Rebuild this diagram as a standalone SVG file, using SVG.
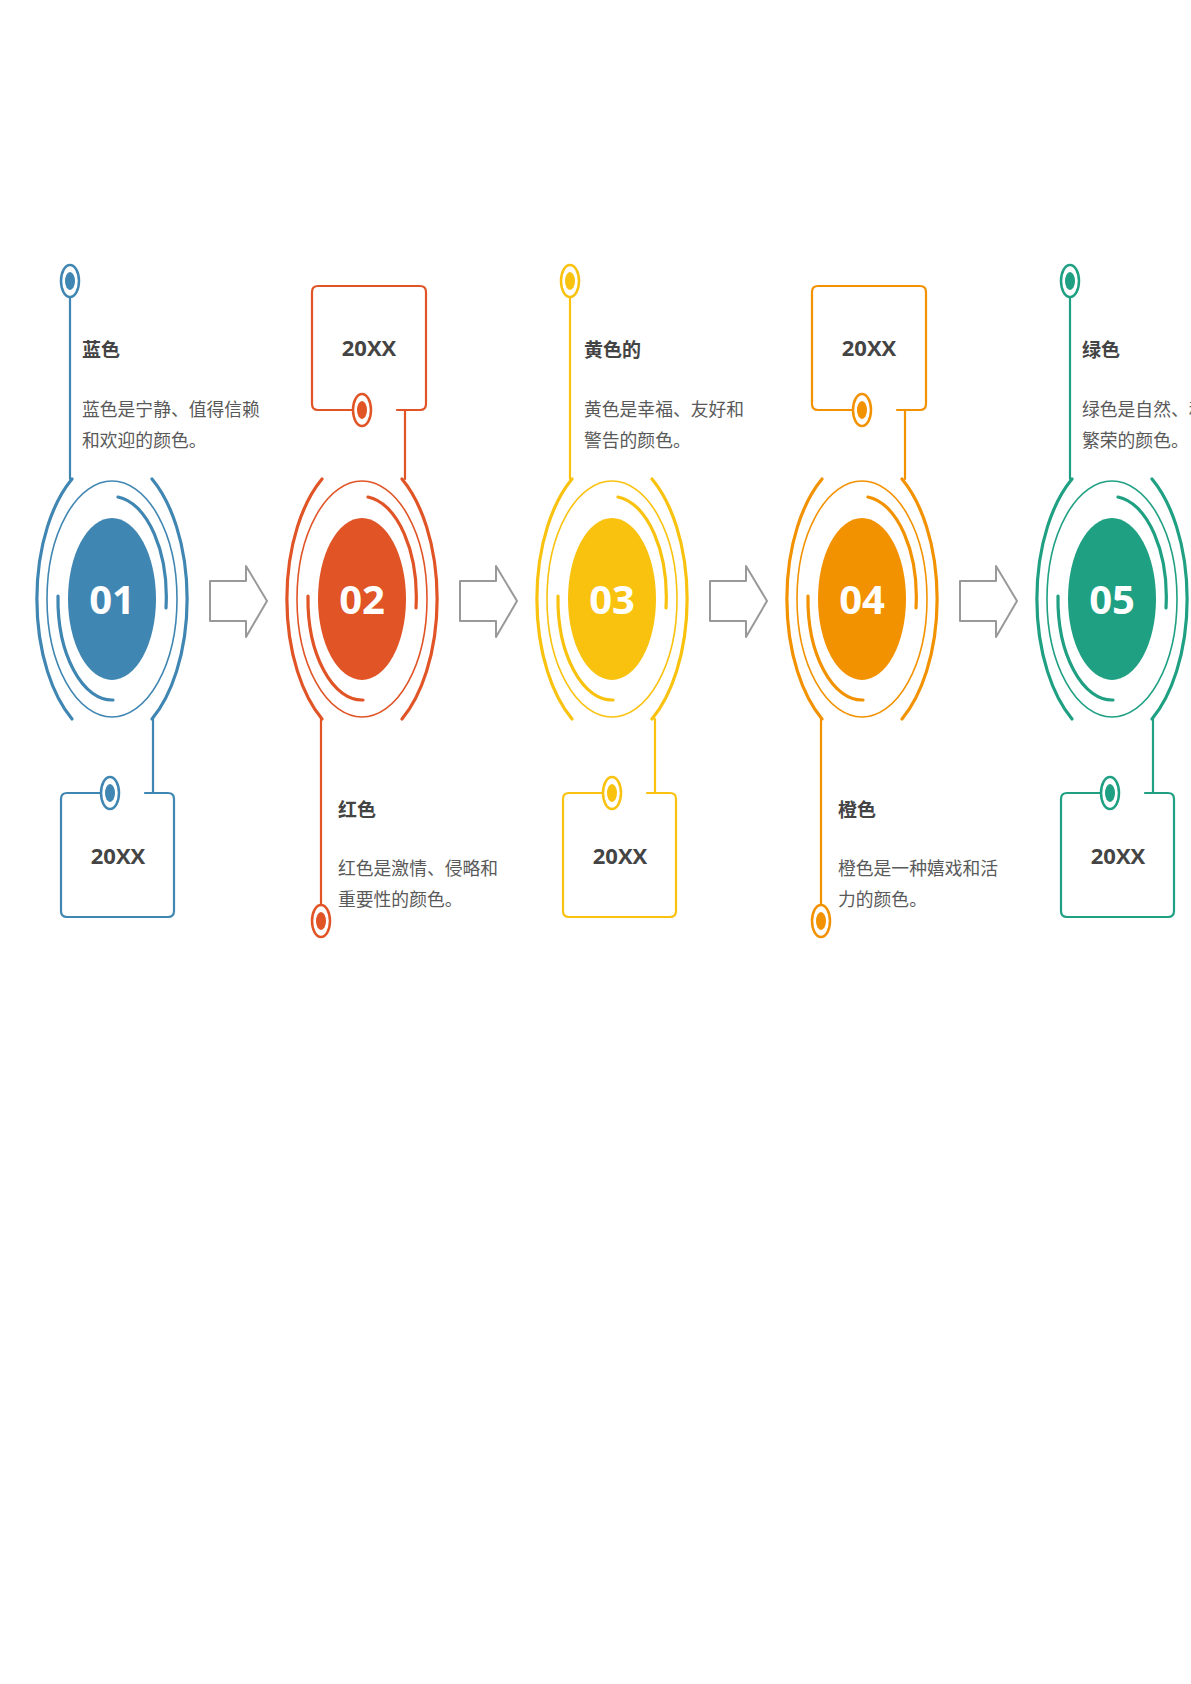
<svg xmlns="http://www.w3.org/2000/svg" width="1191" height="1684" viewBox="0 0 1191 1684">
<style>
.s{fill:none;stroke:currentColor;stroke-linecap:round}
.thin{stroke-width:1.6}
.w2{stroke-width:2.2}
.w3{stroke-width:3.2}
.f{fill:currentColor}
.num{font-family:"Open Sans","Liberation Sans",sans-serif;font-weight:bold;font-size:40px;fill:#fff;text-anchor:middle}
.yr{font-family:"Open Sans","Liberation Sans",sans-serif;font-weight:bold;font-size:22px;fill:#444;text-anchor:middle}
.tt{font-family:"Noto Sans CJK SC",sans-serif;font-weight:bold;font-size:19px;fill:#444}
.bd{font-family:"Noto Sans CJK SC",sans-serif;font-size:17.8px;fill:#595959}
.ar{fill:#fff;stroke:#999;stroke-width:2;stroke-linejoin:round}
</style>
<defs>
<g id="ring">
<path class="s w3" d="M72 479 A77 143 0 0 0 72 719"/>
<path class="s w3" d="M152 479 A77 143 0 0 1 152 719"/>
<ellipse class="s thin" cx="112" cy="599" rx="65" ry="118"/>
<path class="s w3" d="M118 497 A54 101 0 0 1 166 608"/>
<path class="s w3" d="M58 596 A54 101 0 0 0 113 700"/>
<ellipse class="f" cx="112" cy="599" rx="44" ry="81"/>
</g>
<g id="pin">
<ellipse cx="0" cy="0" rx="9" ry="16" fill="#fff" stroke="currentColor" stroke-width="2.5"/>
<ellipse class="f" cx="0" cy="0" rx="5" ry="9"/>
</g>
</defs>
<g id="connectors">
<path class="ar" d="M210 581 H246 V566 L267 601 L246 637 V621 H210 Z"/>
<path class="ar" d="M460 581 H496 V566 L517 601 L496 637 V621 H460 Z"/>
<path class="ar" d="M710 581 H746 V566 L767 601 L746 637 V621 H710 Z"/>
<path class="ar" d="M960 581 H996 V566 L1017 601 L996 637 V621 H960 Z"/>
</g>
<g id="node1" color="#4086B2">
<line class="s w2" x1="70" y1="281" x2="70" y2="479"/>
<use href="#pin" x="70" y="281"/>
<text class="tt" x="82" y="357">蓝色</text>
<text class="bd" x="82" y="416">蓝色是宁静、值得信赖</text>
<text class="bd" x="82" y="447">和欢迎的颜色。</text>
<use href="#ring"/>
<text class="num" x="112" y="614">01</text>
<line class="s w2" x1="153" y1="719" x2="153" y2="793"/>
<path class="s w2" d="M101 793 H67 Q61 793 61 799 V911 Q61 917 67 917 H168 Q174 917 174 911 V799 Q174 793 168 793 H145"/>
<use href="#pin" x="110" y="793"/>
<text class="yr" x="118" y="864">20XX</text>
</g>
<g id="node2" color="#E05426">
<g transform="translate(250,0)"><use href="#ring"/></g>
<text class="num" x="362" y="614">02</text>
<path class="s w2" d="M353 410 H318 Q312 410 312 404 V292 Q312 286 318 286 H420 Q426 286 426 292 V404 Q426 410 420 410 H397"/>
<line class="s w2" x1="405" y1="410" x2="405" y2="479"/>
<use href="#pin" x="362" y="410"/>
<text class="yr" x="369" y="356">20XX</text>
<line class="s w2" x1="321" y1="719" x2="321" y2="921"/>
<use href="#pin" x="321" y="921"/>
<text class="tt" x="338" y="817">红色</text>
<text class="bd" x="338" y="875">红色是激情、侵略和</text>
<text class="bd" x="338" y="906">重要性的颜色。</text>
</g>
<g id="node3" color="#F9C20E">
<line class="s w2" x1="570" y1="281" x2="570" y2="479"/>
<use href="#pin" x="570" y="281"/>
<text class="tt" x="584" y="357">黄色的</text>
<text class="bd" x="584" y="416">黄色是幸福、友好和</text>
<text class="bd" x="584" y="447">警告的颜色。</text>
<g transform="translate(500,0)"><use href="#ring"/></g>
<text class="num" x="612" y="614">03</text>
<line class="s w2" x1="655" y1="719" x2="655" y2="793"/>
<path class="s w2" d="M603 793 H569 Q563 793 563 799 V911 Q563 917 569 917 H670 Q676 917 676 911 V799 Q676 793 670 793 H647"/>
<use href="#pin" x="612" y="793"/>
<text class="yr" x="620" y="864">20XX</text>
</g>
<g id="node4" color="#F39200">
<g transform="translate(750,0)"><use href="#ring"/></g>
<text class="num" x="862" y="614">04</text>
<path class="s w2" d="M853 410 H818 Q812 410 812 404 V292 Q812 286 818 286 H920 Q926 286 926 292 V404 Q926 410 920 410 H897"/>
<line class="s w2" x1="905" y1="410" x2="905" y2="479"/>
<use href="#pin" x="862" y="410"/>
<text class="yr" x="869" y="356">20XX</text>
<line class="s w2" x1="821" y1="719" x2="821" y2="921"/>
<use href="#pin" x="821" y="921"/>
<text class="tt" x="838" y="817">橙色</text>
<text class="bd" x="838" y="875">橙色是一种嬉戏和活</text>
<text class="bd" x="838" y="906">力的颜色。</text>
</g>
<g id="node5" color="#1FA083">
<line class="s w2" x1="1070" y1="281" x2="1070" y2="479"/>
<use href="#pin" x="1070" y="281"/>
<text class="tt" x="1082" y="357">绿色</text>
<text class="bd" x="1082" y="416">绿色是自然、和平和</text>
<text class="bd" x="1082" y="447">繁荣的颜色。</text>
<g transform="translate(1000,0)"><use href="#ring"/></g>
<text class="num" x="1112" y="614">05</text>
<line class="s w2" x1="1153" y1="719" x2="1153" y2="793"/>
<path class="s w2" d="M1101 793 H1067 Q1061 793 1061 799 V911 Q1061 917 1067 917 H1168 Q1174 917 1174 911 V799 Q1174 793 1168 793 H1145"/>
<use href="#pin" x="1110" y="793"/>
<text class="yr" x="1118" y="864">20XX</text>
</g>
</svg>
